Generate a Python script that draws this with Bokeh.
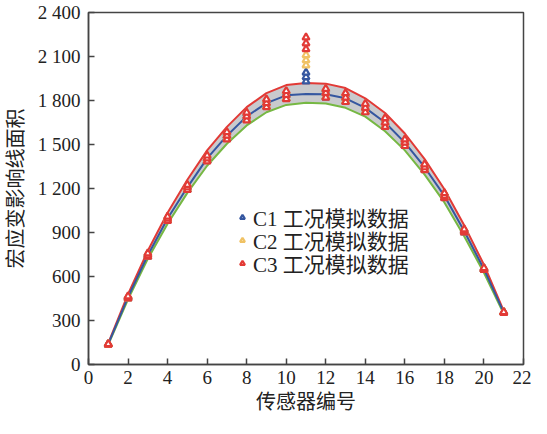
from bokeh.plotting import figure
from bokeh.models import FixedTicker, Legend, LegendItem, Range1d
from bokeh.embed import file_html
from bokeh.resources import INLINE

# ---- data ----
sensors = list(range(1, 22))
x_ticks = list(range(0, 23, 2))
y_ticks = list(range(0, 2401, 300))
y_tick_labels = ["0", "300", "600", "900", "1 200", "1 500", "1 800", "2 100", "2 400"]

upper_curve = [145, 480, 775, 1035, 1260, 1460, 1620, 1755, 1850, 1905, 1920,
               1915, 1885, 1815, 1715, 1575, 1400, 1195, 950, 680, 365]
mean_curve = [140, 460, 745, 995, 1208, 1405, 1560, 1692, 1782, 1835, 1845,
              1842, 1815, 1750, 1650, 1513, 1345, 1150, 910, 650, 355]
lower_curve = [135, 445, 720, 960, 1170, 1355, 1505, 1630, 1720, 1770, 1785,
               1780, 1750, 1690, 1590, 1460, 1295, 1105, 875, 625, 345]

c1_run_a = [135, 450, 735, 982, 1192, 1388, 1538, 1668, 1758, 1812, 1930,
            1822, 1792, 1722, 1622, 1492, 1327, 1137, 901, 645, 352]
c1_run_b = [137, 456, 743, 993, 1205, 1402, 1556, 1688, 1778, 1834, 1960,
            1848, 1816, 1746, 1646, 1510, 1342, 1148, 908, 649, 354]
c1_run_c = [139, 462, 752, 1003, 1218, 1418, 1576, 1710, 1800, 1856, 1990,
            1872, 1842, 1770, 1672, 1528, 1360, 1162, 918, 655, 357]

c2_run_a = [136, 451, 737, 984, 1194, 1390, 1540, 1670, 1760, 1815, 2040,
            1824, 1794, 1724, 1624, 1494, 1329, 1139, 902, 646, 353]
c2_run_b = [138, 457, 745, 995, 1207, 1404, 1558, 1690, 1780, 1836, 2075,
            1850, 1818, 1748, 1648, 1512, 1344, 1150, 909, 650, 355]
c2_run_c = [140, 463, 755, 1005, 1220, 1421, 1580, 1714, 1804, 1860, 2110,
            1876, 1846, 1774, 1676, 1531, 1362, 1165, 920, 656, 357]

c3_run_a = [135, 450, 735, 980, 1190, 1385, 1535, 1665, 1755, 1810, 2150,
            1820, 1790, 1720, 1620, 1490, 1325, 1135, 900, 645, 352]
c3_run_b = [138, 458, 745, 995, 1208, 1405, 1560, 1692, 1782, 1838, 2190,
            1852, 1820, 1750, 1650, 1513, 1345, 1150, 910, 650, 355]
c3_run_c = [140, 465, 758, 1008, 1225, 1425, 1585, 1718, 1808, 1865, 2230,
            1880, 1850, 1778, 1680, 1535, 1365, 1168, 922, 658, 358]

series_names = ["C1 工况模拟数据", "C2 工况模拟数据", "C3 工况模拟数据"]

# ---- styles ----
FONT = "'Liberation Serif', 'Noto Sans CJK SC', serif"
RED = "#e23a36"
BLUE = "#3557a0"
GREEN = "#76b843"
GOLD = "#f0c264"
FILL = "#c9cacd"

p = figure(width=531, height=418, output_backend="svg", toolbar_location=None,
           x_range=Range1d(0, 22), y_range=Range1d(0, 2400),
           min_border_left=88, min_border_right=8, min_border_top=12,
           min_border_bottom=54)

p.xgrid.visible = False
p.ygrid.visible = False
p.outline_line_color = "#444444"
p.outline_line_width = 1.5
p.background_fill_color = "white"
p.border_fill_color = "white"

# band and curves
p.varea(x=sensors, y1=lower_curve, y2=upper_curve, fill_color=FILL, fill_alpha=1.0)
p.line(sensors, lower_curve, line_color=GREEN, line_width=2)
p.line(sensors, upper_curve, line_color=RED, line_width=2)
p.line(sensors, mean_curve, line_color=BLUE, line_width=2)

def draw(runs, color):
    xs = sensors * len(runs)
    ys = []
    for r in runs:
        ys += r
    return p.scatter(xs, ys, marker="triangle", size=7, fill_color="white",
                     line_color=color, line_width=2.2)

r1 = draw([c1_run_a, c1_run_b, c1_run_c], BLUE)
r2 = draw([c2_run_a, c2_run_b, c2_run_c], GOLD)
r3 = draw([c3_run_a, c3_run_b, c3_run_c], RED)

# axes
for ax in (p.xaxis[0], p.yaxis[0]):
    ax.axis_line_color = "#444444"
    ax.axis_line_width = 1.5
    ax.major_tick_line_color = "#444444"
    ax.major_tick_line_width = 1.5
    ax.major_tick_in = 6
    ax.major_tick_out = 0
    ax.minor_tick_line_color = None
    ax.major_label_text_font = FONT
    ax.major_label_text_font_size = "19px"
    ax.major_label_text_color = "#222222"
    ax.axis_label_text_font = FONT
    ax.axis_label_text_font_size = "20px"
    ax.axis_label_text_font_style = "normal"
    ax.axis_label_text_color = "#222222"

p.xaxis.ticker = FixedTicker(ticks=x_ticks)
p.yaxis.ticker = FixedTicker(ticks=y_ticks)
p.yaxis.major_label_overrides = {t: lab for t, lab in zip(y_ticks, y_tick_labels)}
p.xaxis.major_label_standoff = 6
p.yaxis.major_label_standoff = 8
p.xaxis.axis_label = "传感器编号"
p.yaxis.axis_label = "宏应变影响线面积"
p.xaxis.axis_label_standoff = 4
p.yaxis.axis_label_standoff = 8

legend_pos = [(148, 132), (148, 109), (148, 86)]
for name, rend, pos in zip(series_names, [r1, r2, r3], legend_pos):
    lg = Legend(items=[LegendItem(label=name, renderers=[rend])], location=pos)
    lg.border_line_color = None
    lg.background_fill_alpha = 0
    lg.label_text_font = FONT
    lg.label_text_font_size = "21px"
    lg.label_text_color = "#222222"
    lg.glyph_width = 12
    lg.glyph_height = 20
    lg.label_height = 20
    lg.label_standoff = 5
    lg.spacing = 0
    lg.padding = 0
    lg.margin = 0
    p.add_layout(lg)

open("out.html", "w").write(file_html(p, INLINE))
